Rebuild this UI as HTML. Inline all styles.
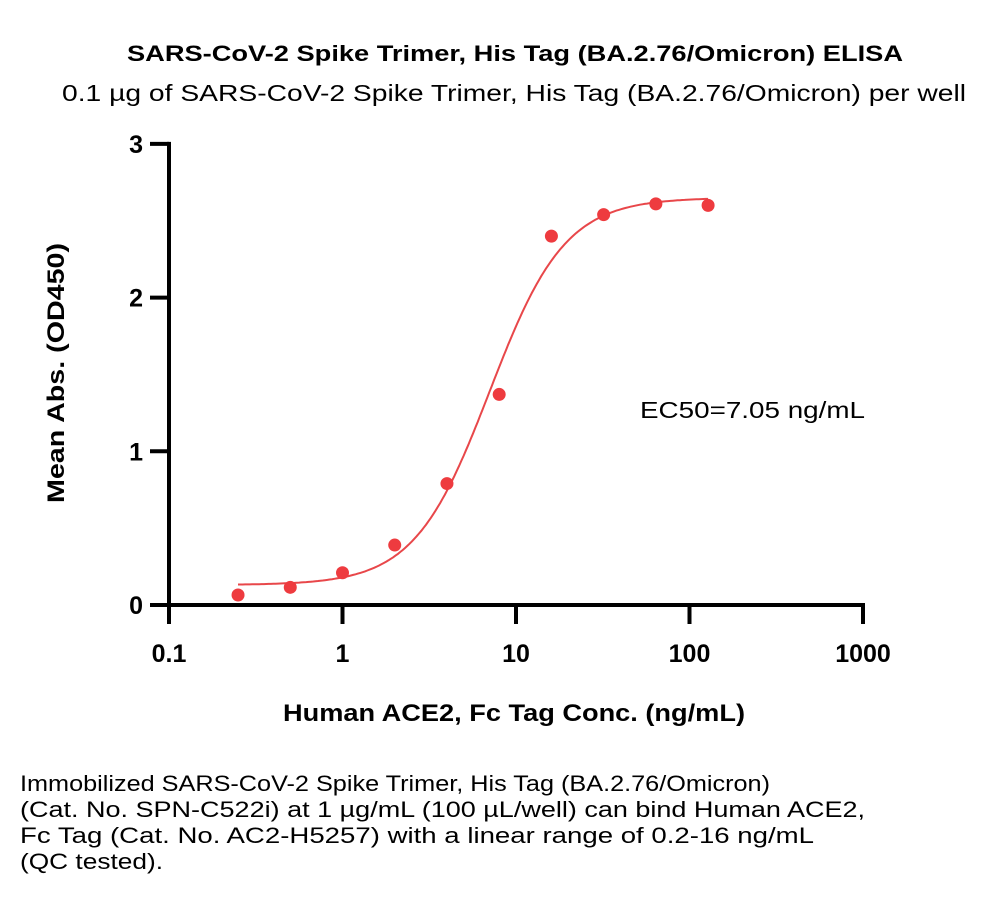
<!DOCTYPE html>
<html><head><meta charset="utf-8"><style>
body{margin:0;background:#fff;width:1000px;height:906px;overflow:hidden;font-family:"Liberation Sans",sans-serif}
</style></head><body>
<svg width="1000" height="906" style="position:absolute;left:0;top:0">
<text x="127" y="61" font-size="22" font-weight="bold" textLength="776" lengthAdjust="spacingAndGlyphs">SARS-CoV-2 Spike Trimer, His Tag (BA.2.76/Omicron) ELISA</text>
<text x="62" y="101" font-size="23" textLength="904" lengthAdjust="spacingAndGlyphs">0.1 µg of SARS-CoV-2 Spike Trimer, His Tag (BA.2.76/Omicron) per well</text>
<g id="axes"></g>
<g id="marks"></g>
<text x="640" y="418" font-size="23" textLength="225" lengthAdjust="spacingAndGlyphs">EC50=7.05 ng/mL</text>
<text x="283" y="721" font-size="24" font-weight="bold" textLength="462" lengthAdjust="spacingAndGlyphs">Human ACE2, Fc Tag Conc. (ng/mL)</text>
<text transform="translate(64,503) rotate(-90)" font-size="24" font-weight="bold" textLength="260" lengthAdjust="spacingAndGlyphs">Mean Abs. (OD450)</text>
<g font-size="22">
<text x="20" y="791" textLength="750" lengthAdjust="spacingAndGlyphs">Immobilized SARS-CoV-2 Spike Trimer, His Tag (BA.2.76/Omicron)</text>
<text x="20" y="817" textLength="845" lengthAdjust="spacingAndGlyphs">(Cat. No. SPN-C522i) at 1 µg/mL (100 µL/well) can bind Human ACE2,</text>
<text x="20" y="843" textLength="794" lengthAdjust="spacingAndGlyphs">Fc Tag (Cat. No. AC2-H5257) with a linear range of 0.2-16 ng/mL</text>
<text x="20" y="869" textLength="143" lengthAdjust="spacingAndGlyphs">(QC tested).</text>
</g>
</svg>
<script>
const xConc=[0.25,0.5,1,2,4,8,16,32,64,128];
const yAbs=[0.065,0.115,0.21,0.39,0.79,1.37,2.40,2.54,2.61,2.60];
const xTicks=[0.1,1,10,100,1000];
const xTickLabels=["0.1","1","10","100","1000"];
const yTicks=[0,1,2,3];
const fitBottom=0.13, fitTop=2.65, fitEC50=7.05, fitHill=2.0;
const NS="http://www.w3.org/2000/svg";
function X(v){return 169+(Math.log10(v)+1)*173.5;}
function Y(v){return 605-v*153.7;}
function mk(t,a,p){const e=document.createElementNS(NS,t);for(const k in a)e.setAttribute(k,a[k]);p.appendChild(e);return e;}
const ax=document.getElementById('axes'),mg=document.getElementById('marks');
let l=mk('line',{x1:169,y1:Y(3)-2,x2:169,y2:607,stroke:'#000','stroke-width':4},ax);

l=mk('line',{x1:150,y1:605,x2:X(1000)+2,y2:605,stroke:'#000','stroke-width':4},ax);

yTicks.forEach(v=>{
 const t=mk('line',{x1:150,y1:Y(v),x2:169,y2:Y(v),stroke:'#000','stroke-width':4},ax);
 
 const tx=mk('text',{x:143,y:Y(v)+9,'text-anchor':'end','font-size':25,'font-weight':'bold'},ax);
 tx.textContent=v;
 
});
xTicks.forEach((v,i)=>{
 const t=mk('line',{x1:X(v),y1:605,x2:X(v),y2:624,stroke:'#000','stroke-width':4},ax);
 
 const tx=mk('text',{x:X(v),y:662,'text-anchor':'middle','font-size':25,'font-weight':'bold'},ax);
 tx.textContent=xTickLabels[i];
 
});
let d='';
for(let i=0;i<=200;i++){const lx=Math.log10(0.25)+i/200*(Math.log10(128)-Math.log10(0.25));const c=Math.pow(10,lx);
 const y=fitBottom+(fitTop-fitBottom)/(1+Math.pow(fitEC50/c,fitHill));d+=(i?'L':'M')+X(c).toFixed(1)+','+Y(y).toFixed(1);}
const fc=mk('path',{d:d,fill:'none',stroke:'#e8474a','stroke-width':2},mg);

xConc.forEach((c,i)=>{const p=mk('circle',{cx:X(c),cy:Y(yAbs[i]),r:6.5,fill:'#ee3b3f'},mg);
 });
</script>
</body></html>
